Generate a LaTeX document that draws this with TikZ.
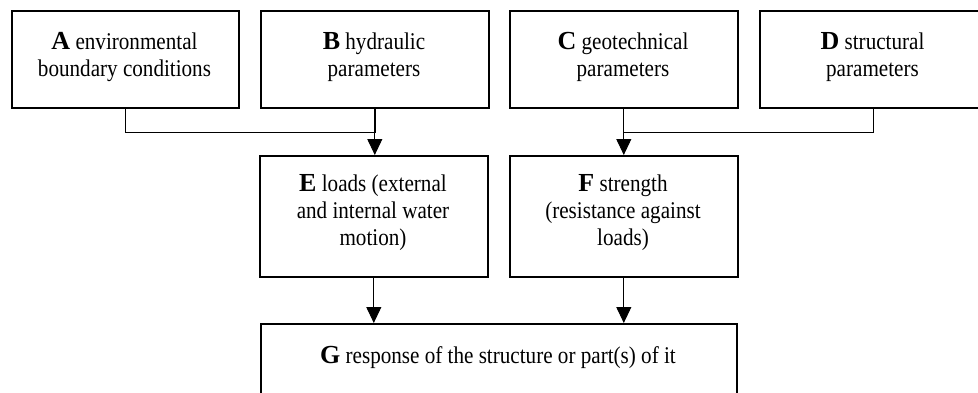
\documentclass[tikz,border=0pt]{standalone}
\usepackage{fontspec}
\setmainfont{Liberation Serif}[FakeStretch=0.88]
\newfontfamily\lettf{Liberation Serif}
\usetikzlibrary{arrows.meta,calc}
\newcommand\Lt[1]{{\lettf\bfseries\fontsize{26pt}{26pt}\selectfont #1}}
\tikzset{
  box/.style={draw, line width=1.6pt, inner sep=0pt, anchor=north west},
  txt/.style={anchor=base, inner sep=0pt, font=\fontsize{24pt}{27pt}\selectfont},
  conn/.style={line width=1pt},
  connthick/.style={line width=1.8pt},
  arr/.style={-{Triangle[width=15pt,length=16pt]}},
}
\begin{document}
\begin{tikzpicture}[x=1pt,y=-1pt]
\useasboundingbox (0,0) rectangle (978,392);
\clip (0,0) rectangle (978,392);
% boxes
\node[box, minimum width=227pt, minimum height=97pt] (A) at (11,10) {};
\node[box, minimum width=228pt, minimum height=97pt] (B) at (260,10) {};
\node[box, minimum width=228pt, minimum height=97pt] (C) at (509,10) {};
\node[box, minimum width=227pt, minimum height=97pt] (D) at (759,10) {};
\node[box, minimum width=228pt, minimum height=121pt] (E) at (259,155) {};
\node[box, minimum width=228pt, minimum height=121pt] (F) at (509,155) {};
\node[box, minimum width=476pt, minimum height=90pt] (G) at (260,323) {};
% texts
\node[txt] (A1) at (124.5,49) {\Lt{A} environmental};
\node[txt] (A2) at (124.5,76) {boundary conditions};
\node[txt] (B1) at (374,49) {\Lt{B} hydraulic};
\node[txt] (B2) at (374,76) {parameters};
\node[txt] (C1) at (623,49) {\Lt{C} geotechnical};
\node[txt] (C2) at (623,76) {parameters};
\node[txt] (D1) at (872.5,49) {\Lt{D} structural};
\node[txt] (D2) at (872.5,76) {parameters};
\node[txt] (E1) at (373,191) {\Lt{E} loads (external};
\node[txt] (E2) at (373,218) {and internal water};
\node[txt] (E3) at (373,245) {motion)};
\node[txt] (F1) at (623,191) {\Lt{F} strength};
\node[txt] (F2) at (623,218) {(resistance against};
\node[txt] (F3) at (623,245) {loads)};
\node[txt] (G1) at (498,363) {\Lt{G} response of the structure or part(s) of it};
% junctions
\coordinate (jAB) at ($(B.south)+(0,24)$);
\coordinate (jCD) at ($(C.south)+(0,24)$);
% connectors
\draw[conn] (A.south) |- (jAB);
\draw[connthick] (B.south) -- (jAB);
\draw[conn,arr] (jAB) -- (jAB |- E.north);
\draw[conn] (D.south) |- (jCD);
\draw[conn,arr] (C.south) -- (C.south |- F.north);
\draw[conn,arr] (E.south) -- (E.south |- G.north);
\draw[conn,arr] (F.south) -- (F.south |- G.north);
\end{tikzpicture}
\end{document}
